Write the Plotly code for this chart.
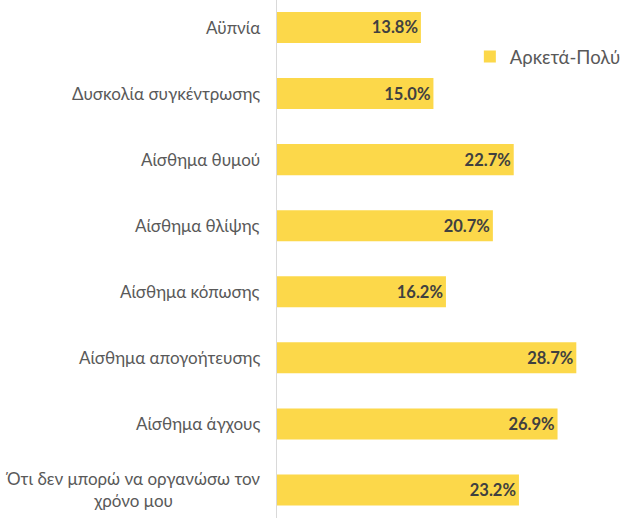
import plotly.graph_objects as go

categories = ["Αϋπνία", "Δυσκολία συγκέντρωσης", "Αίσθημα θυμού", "Αίσθημα θλίψης",
              "Αίσθημα κόπωσης", "Αίσθημα απογοήτευσης", "Αίσθημα άγχους",
              "Ότι δεν μπορώ να οργανώσω τον<br>χρόνο μου"]
values = [13.8, 15.0, 22.7, 20.7, 16.2, 28.7, 26.9, 23.2]
series_name = "Αρκετά-Πολύ"

FONT = "Lato"
fig = go.Figure()
fig.add_trace(go.Bar(
    y=list(range(len(categories))), x=values, orientation="h", name=series_name,
    marker=dict(color="#FCD84A", line=dict(width=0)),
    width=0.47,
    text=[f"{v:.1f}%" for v in values], textposition="inside", insidetextanchor="end",
    textfont=dict(family=FONT, size=16.5, color="#404040", weight="bold"),
    showlegend=True, hoverinfo="skip",
))
for i, c in enumerate(categories):
    fig.add_annotation(x=-0.042, xref="paper", y=i, yref="y", text=c, showarrow=False,
                       xanchor="right", yanchor="middle", align="center",
                       font=dict(family=FONT, size=17, color="#595959"))

fig.update_layout(
    width=627, height=518, paper_bgcolor="white", plot_bgcolor="white",
    margin=dict(l=277, r=0, t=0, b=0, autoexpand=False),
    xaxis=dict(range=[0, 33.56], showgrid=False, showticklabels=False, zeroline=False,
               showline=False, fixedrange=True),
    yaxis=dict(range=[7.424, -0.416], showticklabels=False, showgrid=False, zeroline=False,
               showline=True, linecolor="#D9D9D9", linewidth=1, ticks=""),
    legend=dict(x=0.551, y=0.89, xanchor="left", yanchor="middle",
                font=dict(family=FONT, size=18.5, color="#595959"), bgcolor="rgba(0,0,0,0)"),
    uniformtext=dict(minsize=8, mode="show"),
)
fig.write_html("out.html", config={"displayModeBar": False},
               post_script="document.body.style.margin='0';document.body.style.padding='0';")
